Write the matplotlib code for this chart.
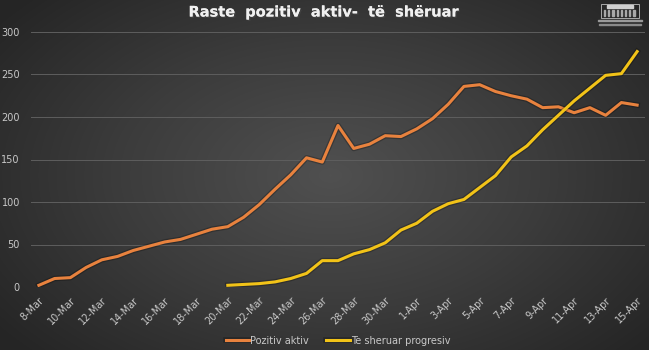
import numpy as np
import matplotlib
matplotlib.use("Agg")
import matplotlib.pyplot as plt
import matplotlib.patheffects as pe
from matplotlib.colors import LinearSegmentedColormap
from matplotlib.patches import Rectangle

# Data
days = ["8-Mar", "9-Mar", "10-Mar", "11-Mar", "12-Mar", "13-Mar", "14-Mar", "15-Mar",
        "16-Mar", "17-Mar", "18-Mar", "19-Mar", "20-Mar", "21-Mar", "22-Mar", "23-Mar",
        "24-Mar", "25-Mar", "26-Mar", "27-Mar", "28-Mar", "29-Mar", "30-Mar", "31-Mar",
        "1-Apr", "2-Apr", "3-Apr", "4-Apr", "5-Apr", "6-Apr", "7-Apr", "8-Apr",
        "9-Apr", "10-Apr", "11-Apr", "12-Apr", "13-Apr", "14-Apr", "15-Apr"]
pozitiv_aktiv = [2, 10, 11, 23, 32, 36, 43, 48, 53, 56, 62, 68, 71, 82, 97, 115,
                 132, 152, 147, 190, 163, 168, 178, 177, 186, 198, 215, 236, 238,
                 230, 225, 221, 211, 212, 205, 211, 202, 217, 214]
# recovered series starts on 20-Mar
sheruar_start = 12
te_sheruar = [2, 3, 4, 6, 10, 16, 31, 31, 39, 44, 52, 67, 75, 89, 98, 103, 117,
              131, 153, 166, 185, 202, 219, 234, 249, 251, 277]

W, H = 649, 350
fig = plt.figure(figsize=(W / 100, H / 100), dpi=100)

# dark radial background
bg = fig.add_axes([0, 0, 1, 1])
yy, xx = np.mgrid[0:H, 0:W]
r = np.sqrt(((xx - 330) / 420.0) ** 2 + ((yy - 175) / 260.0) ** 2)
cmap = LinearSegmentedColormap.from_list("bg", ["#505050", "#3c3c3c", "#252525"])
bg.imshow(np.clip(r, 0, 1), cmap=cmap, aspect="auto", extent=[0, 1, 0, 1], vmin=0, vmax=1)
bg.axis("off")

ax = fig.add_axes([31 / W, 1 - 287 / H, (645 - 31) / W, (287 - 32) / H])
ax.patch.set_alpha(0)
x = np.arange(len(days))
glow = [pe.Stroke(linewidth=4, alpha=0.25, foreground="#000000"), pe.Normal()]
ax.plot(x, pozitiv_aktiv, color="#e8823e", lw=2.2, label="Pozitiv aktiv",
        solid_joinstyle="round", path_effects=glow)
ax.plot(x[sheruar_start:], te_sheruar, color="#f2c318", lw=2.2, label="Te sheruar progresiv",
        solid_joinstyle="round", path_effects=glow)

ax.set_xlim(-0.5, len(days) - 0.5)
ax.set_ylim(0, 300)
ax.set_yticks(range(0, 301, 50))
ax.set_xticks(x[::2])
ax.set_xticklabels(days[::2], rotation=45, ha="right", rotation_mode="anchor")
ax.tick_params(axis="both", colors="#c8c8c8", labelsize=7, length=0)
ax.tick_params(axis="x", pad=6)
ax.tick_params(axis="y", pad=8)
ax.grid(axis="y", color="#5e5e5e", lw=0.7)
ax.set_axisbelow(True)
for s in ax.spines.values():
    s.set_visible(False)

leg = ax.legend(loc="center", bbox_to_anchor=(0.5, -0.21), ncol=2, frameon=False,
                fontsize=7, handlelength=2.4, handletextpad=0.1, columnspacing=1.8)
for t in leg.get_texts():
    t.set_color("#c8c8c8")

fig.text(0.5, 1 - 12 / H, "Raste  pozitiv  aktiv-  të  shëruar", ha="center", va="center",
         color="#f0f0f0", fontsize=10.5, fontweight="bold",
         path_effects=[pe.withSimplePatchShadow(offset=(1, -1), alpha=0.6), pe.Normal()])

# small building logo in the corner
logo = fig.add_axes([595 / W, 1 - 28 / H, 50 / W, 26 / H])
logo.set_xlim(0, 50)
logo.set_ylim(0, 26)
logo.axis("off")
logo.add_patch(Rectangle((6, 10), 38, 14, fill=False, ec="#bdbdbd", lw=0.6))
logo.add_patch(Rectangle((12, 20), 26, 3, color="#d0d0d0"))
for i in range(8):
    logo.add_patch(Rectangle((9 + i * 4.2, 12), 1.2, 6, color="#a8a8a8"))
logo.add_patch(Rectangle((3, 7), 44, 1.2, color="#9a9a9a"))
logo.add_patch(Rectangle((4, 3), 42, 1.2, color="#8a8a8a"))

fig.savefig("out.png", dpi=100)
